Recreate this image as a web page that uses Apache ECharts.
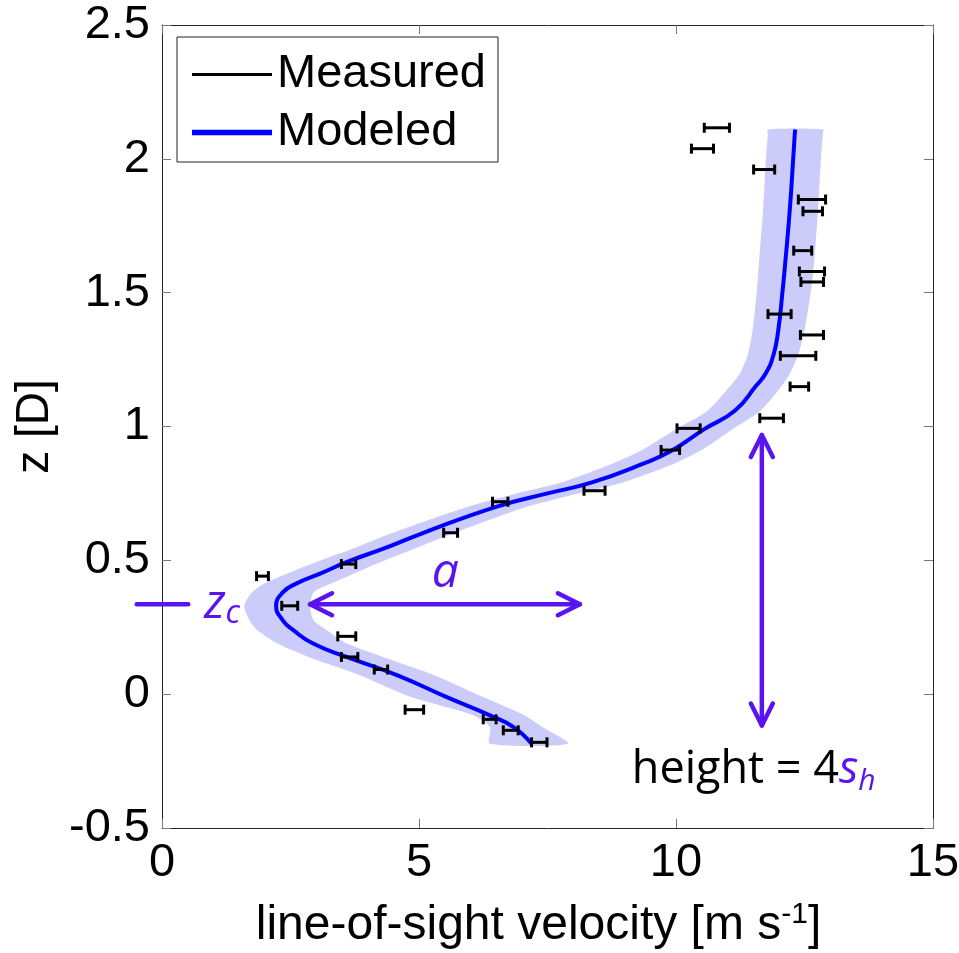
<!DOCTYPE html>
<html>
<head>
<meta charset="utf-8">
<script src="https://cdn.jsdelivr.net/npm/echarts@6/dist/echarts.min.js"></script>
<style>
  html, body { margin: 0; padding: 0; background: #fff; }
  #chart { width: 959px; height: 953px; }
</style>
</head>
<body>
<div id="chart"></div>
<script>
// measured error bars: height z [D], lower / upper velocity [m s-1]
const measZ  = [2.116, 2.038, 1.960, 1.848, 1.804, 1.657, 1.579, 1.540, 1.420, 1.342, 1.264, 1.149, 1.031, 0.993,
                0.912, 0.760, 0.719, 0.603, 0.486, 0.441, 0.330, 0.216, 0.139, 0.092, -0.058, -0.094, -0.135, -0.180];
const measLo = [10.55, 10.30, 11.51, 12.38, 12.47, 12.29, 12.40, 12.43, 11.79, 12.42, 12.03, 12.22, 11.63, 10.02,
                9.71, 8.21, 6.43, 5.48, 3.49, 1.84, 2.33, 3.42, 3.49, 4.13, 4.73, 6.25, 6.64, 7.19];
const measHi = [11.04, 10.73, 11.92, 12.91, 12.85, 12.64, 12.89, 12.87, 12.24, 12.87, 12.72, 12.58, 12.09, 10.47,
                10.07, 8.62, 6.73, 5.75, 3.77, 2.07, 2.64, 3.77, 3.81, 4.39, 5.09, 6.50, 6.93, 7.49];

// modeled profile and its uncertainty band
const zModel = [-0.185, -0.123, -0.079, -0.011, 0.071, 0.139, 0.189, 0.24, 0.276, 0.33, 0.38, 0.414, 0.452, 0.494,
                0.55, 0.60, 0.70, 0.75, 0.79, 0.86, 0.91, 0.99, 1.06, 1.15, 1.20, 1.27, 1.36, 1.50, 1.60, 1.80,
                2.00, 2.09, 2.11];
const vModel = [7.19, 6.84, 6.38, 5.54, 4.57, 3.59, 2.94, 2.55, 2.35, 2.22, 2.35, 2.62, 3.10, 3.60,
                4.40, 5.05, 6.50, 7.50, 8.35, 9.35, 9.92, 10.55, 11.15, 11.55, 11.75, 11.90, 11.99, 12.07, 12.12, 12.21,
                12.28, 12.31, 12.32];
const bandLeft  = [6.38, 6.38, 6.05, 4.85, 3.85, 2.85, 2.25, 1.85, 1.70, 1.60, 1.75, 2.00, 2.45, 3.00,
                   3.80, 4.45, 5.95, 6.90, 7.75, 8.75, 9.32, 10.00, 10.62, 11.05, 11.25, 11.40, 11.49, 11.57, 11.61, 11.69,
                   11.75, 11.785, 11.79];
const bandRight = [7.90, 7.40, 7.05, 6.25, 5.30, 4.30, 3.60, 3.20, 2.95, 2.88, 2.95, 3.30, 3.75, 4.25,
                   5.00, 5.65, 7.10, 8.10, 8.95, 9.95, 10.48, 11.10, 11.65, 12.05, 12.22, 12.38, 12.50, 12.62, 12.68, 12.76,
                   12.82, 12.855, 12.86];

// annotation arrows [x, z]
const arrowA  = [[2.88, 0.336], [8.13, 0.336]];
const arrowH  = [[11.67, 0.968], [11.67, -0.117]];
const zcMark  = [[-0.49, 0.336], [0.51, 0.336]];
const labelA  = [5.51, 0.452];
const labelZc = [0.82, 0.336];
const labelHt = [9.14, -0.285];

const purple = '#5a14f0';
const font = '"Liberation Sans", Arial, sans-serif';
const annFont = '"Open Sans", "Noto Sans", sans-serif';

let chart = echarts.init(document.getElementById('chart'));

function arrowLines(p1, p2, heads) {
  const out = [{type: 'line', shape: {x1: p1[0], y1: p1[1], x2: p2[0], y2: p2[1]}}];
  if (heads) {
    [[p1, p2], [p2, p1]].forEach(function (pair) {
      const tip = pair[0], from = pair[1];
      const dx = from[0] - tip[0], dy = from[1] - tip[1];
      const len = Math.sqrt(dx * dx + dy * dy);
      const ux = dx / len, uy = dy / len;
      const back = 22, side = 11;
      out.push({type: 'polyline', shape: {points: [
        [tip[0] + ux * back - uy * side, tip[1] + uy * back + ux * side],
        [tip[0], tip[1]],
        [tip[0] + ux * back + uy * side, tip[1] + uy * back - ux * side]
      ]}});
    });
  }
  out.forEach(function (e) {
    e.style = {stroke: purple, lineWidth: 4.5, fill: null, lineCap: 'round', lineJoin: 'round'};
  });
  return out;
}

const axisBits = {
  axisLine: {onZero: false, lineStyle: {color: '#262626', width: 1}},
  axisTick: {inside: true, length: 9, lineStyle: {color: '#777'}},
  splitLine: {show: false}
};

let option = {
  animation: false,
  backgroundColor: '#fff',
  grid: {left: 162, right: 26, top: 25, bottom: 125, outerBoundsMode: 'none', containLabel: false},
  legend: {
    left: 177,
    top: 37,
    orient: 'vertical',
    itemWidth: 80,
    itemHeight: 20,
    itemGap: 11,
    padding: [14, 12, 6, 15],
    borderColor: '#222',
    borderWidth: 1,
    backgroundColor: '#fff',
    selectedMode: false,
    textStyle: {fontFamily: font, fontSize: 47, color: '#000', lineHeight: 47},
    data: [
      {name: 'Measured', icon: 'path://M0,0H80V3H0Z', itemStyle: {color: '#000'}},
      {name: 'Modeled', icon: 'path://M0,0H80V5.5H0Z', itemStyle: {color: '#0000ff'}}
    ]
  },
  xAxis: [Object.assign({
    type: 'value', min: 0, max: 15, interval: 5,
    name: 'line-of-sight velocity [m s{sup|-1}]',
    nameLocation: 'middle', nameGap: 72,
    nameTextStyle: {
      fontFamily: font, fontSize: 48, color: '#000', padding: [0, 18, 0, 0],
      rich: {sup: {fontFamily: font, fontSize: 30, color: '#000', verticalAlign: 'top', padding: [0, 0, 22, 0]}}
    },
    axisLabel: {fontFamily: font, fontSize: 47, color: '#000', margin: 12}
  }, axisBits), Object.assign({
    type: 'value', min: 0, max: 15, interval: 5, position: 'top',
    axisLabel: {show: false}
  }, axisBits)],
  yAxis: [Object.assign({
    type: 'value', min: -0.5, max: 2.5, interval: 0.5,
    name: 'z [D]',
    nameLocation: 'middle', nameGap: 93, nameRotate: 90,
    nameTextStyle: {fontFamily: font, fontSize: 46, color: '#000'},
    axisLabel: {fontFamily: font, fontSize: 47, color: '#000', margin: 12}
  }, axisBits), Object.assign({
    type: 'value', min: -0.5, max: 2.5, interval: 0.5, position: 'right',
    axisLabel: {show: false}
  }, axisBits)],
  series: [
    {
      // uncertainty band of the model
      name: 'band',
      type: 'custom',
      silent: true,
      data: zModel.map(function (z, i) { return [bandLeft[i], bandRight[i], z]; }),
      encode: {x: [0, 1], y: 2},
      z: 1,
      renderItem: function (params, api) {
        if (params.dataIndex !== 0) return;
        const pts = [];
        for (let i = 0; i < zModel.length; i++) pts.push(api.coord([bandLeft[i], zModel[i]]));
        for (let i = zModel.length - 1; i >= 0; i--) pts.push(api.coord([bandRight[i], zModel[i]]));
        return {type: 'polygon', shape: {points: pts, smooth: 0.25}, style: {fill: '#ccccfa'}};
      }
    },
    {
      name: 'Modeled',
      type: 'line',
      data: zModel.map(function (z, i) { return [vModel[i], z]; }),
      smooth: 0.5,
      symbol: 'none',
      color: '#0000ff',
      lineStyle: {color: '#0000ff', width: 4},
      z: 2
    },
    {
      name: 'Measured',
      type: 'custom',
      data: measZ.map(function (z, i) { return [measLo[i], measHi[i], z]; }),
      encode: {x: [0, 1], y: 2},
      itemStyle: {color: '#000'},
      z: 3,
      renderItem: function (params, api) {
        const l = api.coord([api.value(0), api.value(2)]);
        const r = api.coord([api.value(1), api.value(2)]);
        const h = 5;
        const st = {stroke: '#000', lineWidth: 3};
        return {type: 'group', children: [
          {type: 'line', shape: {x1: l[0], y1: l[1], x2: r[0], y2: r[1]}, style: st},
          {type: 'line', shape: {x1: l[0], y1: l[1] - h, x2: l[0], y2: l[1] + h}, style: st},
          {type: 'line', shape: {x1: r[0], y1: r[1] - h, x2: r[0], y2: r[1] + h}, style: st}
        ]};
      }
    },
    {
      name: 'annotations',
      type: 'custom',
      silent: true,
      clip: false,
      data: [0],
      encode: {x: 0, y: 0},
      z: 4,
      renderItem: function (params, api) {
        const c = function (p) { return api.coord(p); };
        let kids = [];
        kids = kids.concat(arrowLines(c(arrowA[0]), c(arrowA[1]), true));
        kids = kids.concat(arrowLines(c(arrowH[0]), c(arrowH[1]), true));
        kids = kids.concat(arrowLines(c(zcMark[0]), c(zcMark[1]), false));
        const pa = c(labelA), pz = c(labelZc), ph = c(labelHt);
        kids.push({type: 'text', x: pa[0], y: pa[1], style: {
          text: 'a', fill: purple, font: 'italic 48px ' + annFont, align: 'center', verticalAlign: 'middle'}});
        kids.push({type: 'text', x: pz[0], y: pz[1], style: {
          text: '{z|z}{c|c}', align: 'left', verticalAlign: 'middle',
          rich: {
            z: {fill: purple, fontFamily: annFont, fontStyle: 'italic', fontSize: 48, verticalAlign: 'middle'},
            c: {fill: purple, fontFamily: annFont, fontStyle: 'italic', fontSize: 32, verticalAlign: 'bottom', padding: [20, 0, 0, 0]}
          }}});
        kids.push({type: 'text', x: ph[0], y: ph[1], style: {
          text: '{b|height = 4}{s|s}{h|h}', align: 'left', verticalAlign: 'middle',
          rich: {
            b: {fill: '#000', fontFamily: annFont, fontSize: 45, verticalAlign: 'middle'},
            s: {fill: purple, fontFamily: annFont, fontStyle: 'italic', fontSize: 45, verticalAlign: 'middle'},
            h: {fill: purple, fontFamily: annFont, fontStyle: 'italic', fontSize: 30, verticalAlign: 'bottom', padding: [22, 0, 0, 0]}
          }}});
        return {type: 'group', children: kids};
      }
    }
  ]
};

chart.setOption(option);
</script>
</body>
</html>
